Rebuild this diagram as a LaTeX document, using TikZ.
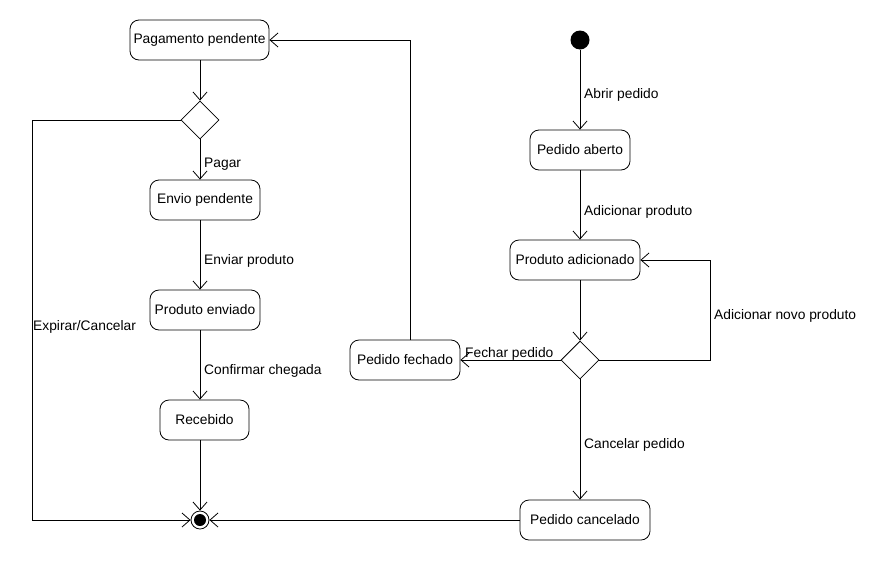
\documentclass[tikz,border=0pt]{standalone}
\usepackage{fontspec}
\setmainfont{Liberation Sans}
\usetikzlibrary{arrows.meta,shapes.geometric}
\begin{document}
\begin{tikzpicture}[x=1pt,y=-1pt,
  every node/.style={font=\fontsize{13.8}{15}\selectfont},
  state/.style={draw,rounded corners=9pt,minimum height=40pt,inner sep=0pt,line width=0.8pt},
  decision/.style={draw,diamond,minimum width=38pt,minimum height=38pt,inner sep=0pt,line width=0.8pt},
  lbl/.style={anchor=west,inner sep=0pt},
  conn/.style={line width=0.8pt,-{Straight Barb[length=8pt,width=14pt,line width=0.8pt]}},
  plain/.style={line width=0.8pt}]
\useasboundingbox (0,0) rectangle (890,560);
% left column
\node[state,minimum width=139pt] (pag) at (199.5,40) {Pagamento pendente};
\node[decision] (d1) at (200,120) {};
\node[state,minimum width=110pt] (env) at (205,200) {Envio pendente};
\node[state,minimum width=110pt] (pen) at (205,310) {Produto enviado};
\node[state,minimum width=89pt] (rec) at (204.5,420) {Recebido};
\node[circle,draw,line width=0.8pt,minimum size=18pt,inner sep=0pt] (fin) at (200,520) {};
\fill (fin.center) circle (6pt);
% right column
\node[circle,fill,minimum size=19pt,inner sep=0pt] (ini) at (580,40) {};
\node[state,minimum width=100pt] (ab) at (580,150) {Pedido aberto};
\node[state,minimum width=130pt] (ad) at (575,260) {Produto adicionado};
\node[decision] (d2) at (580,360) {};
\node[state,minimum width=110pt] (fe) at (405,360) {Pedido fechado};
\node[state,minimum width=130pt] (ca) at (585,520) {Pedido cancelado};
\coordinate (c1) at (32,120);
\coordinate (c2) at (32,520);
\coordinate (c3) at (710,360);
\coordinate (c4) at (710,260);
\coordinate (c5) at (410,340);
\coordinate (c6) at (410,40);
% connectors
\draw[conn] (pag.south -| d1) -- (d1.north);
\draw[conn] (d1.south) -- (d1.south |- env.north);
\draw[conn] (d1.south |- env.south) -- (d1.south |- pen.north);
\draw[conn] (d1.south |- pen.south) -- (d1.south |- rec.north);
\draw[conn] (d1.south |- rec.south) -- (fin.north);
\draw[conn] (d1.west) -- (c1) -- (c2) -- (fin.west);
\draw[conn] (ini.south) -- (ab.north);
\draw[conn] (ab.south) -- (ab.south |- ad.north);
\draw[conn] (ab.south |- ad.south) -- (d2.north);
\draw[conn] (d2.east) -- (c3) -- (c4) -- (ad.east);
\draw[conn] (d2.west) -- (fe.east);
\draw[conn] (c5) -- (c6) -- (pag.east);
\draw[conn] (d2.south) -- (d2.south |- ca.north);
\draw[conn] (ca.west) -- (fin.east);
% labels
\node[lbl] (lpag) at (204,164.5) {Pagar};
\node[lbl] (lenv) at (204,260.5) {Enviar produto};
\node[lbl] (lcon) at (204,370.5) {Confirmar chegada};
\node[lbl] (lexp) at (33,326.5) {Expirar/Cancelar};
\node[lbl] (labr) at (584,94.5) {Abrir pedido};
\node[lbl] (ladp) at (584,211.5) {Adicionar produto};
\node[lbl] (lnov) at (714,315.5) {Adicionar novo produto};
\node[lbl] (lfec) at (465,354) {Fechar pedido};
\node[lbl] (lcan) at (584,444.5) {Cancelar pedido};
\end{tikzpicture}
\end{document}
